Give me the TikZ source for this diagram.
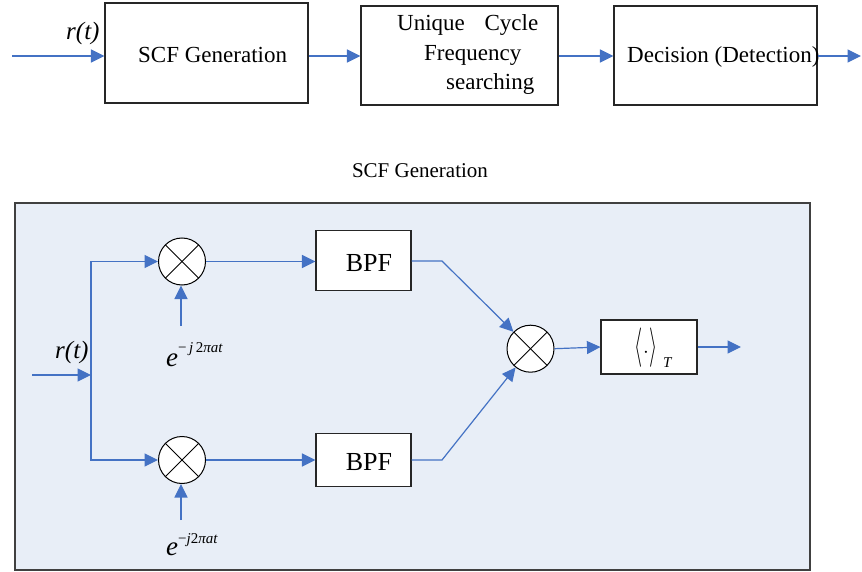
\documentclass[tikz,border=0pt]{standalone}
\usepackage{fontspec}
\usepackage{graphicx}
\setmainfont{Liberation Serif}
\usetikzlibrary{arrows.meta}
\definecolor{sigblue}{HTML}{4472C4}
\definecolor{panelfill}{HTML}{E8EEF7}
\definecolor{edgegray}{HTML}{404040}
\begin{document}
\begin{tikzpicture}[x=1pt,y=-1pt,
  blk/.style={draw=black!85, line width=1.1pt, fill=white, inner sep=0pt},
  sig/.style={draw=sigblue, line width=1.2pt, -{Triangle[length=13.5pt,width=13pt]}},
  mixer/.style={circle, draw=black, line width=1pt, fill=white, minimum size=47pt, inner sep=0pt,
    path picture={
      \draw[line width=0.9pt] (path picture bounding box.north west) -- (path picture bounding box.south east);
      \draw[line width=0.9pt] (path picture bounding box.north east) -- (path picture bounding box.south west);}},
  big/.style={font=\fontsize{23}{23}\selectfont, inner sep=0pt},
  sym/.style={font=\fontsize{25}{25}\selectfont\itshape, inner sep=0pt}]
\useasboundingbox (0,0) rectangle (862,572);

% ---- top chain ----
\node[blk, minimum width=203pt, minimum height=100pt] (b1) at (206.5,53) {};
\node[blk, minimum width=197pt, minimum height=99pt] (b2) at (459.5,55.5) {};
\node[blk, minimum width=203pt, minimum height=99pt] (b3) at (715.5,55.5) {};

\node[big, anchor=base west] (t1) at (138,63) {SCF Generation};
\node[big, anchor=base west] (t2a) at (397,31) {Unique\hspace*{14pt} Cycle};
\node[big, anchor=base west] (t2b) at (424,61) {Frequency};
\node[big, anchor=base west] (t2c) at (446,90) {searching};
\node[big, anchor=base west] (t3) at (627,63) {Decision (Detection)};

\coordinate (in1) at (12,56);
\coordinate (out1) at (861,56);
\node[sym, anchor=base west] (r1) at (66,40) {r(t)};
\draw[sig] (in1) -- (in1 -| b1.west);
\draw[sig] (b1.east |- in1) -- (b2.west |- in1);
\draw[sig] (b2.east |- in1) -- (b3.west |- in1);
\draw[sig] (b3.east |- in1) -- (out1);

% ---- SCF generation detail ----
\node[font=\fontsize{21}{21}\selectfont, inner sep=0pt] (title) at (420,171) {SCF Generation};
\node[draw=edgegray, line width=1.3pt, fill=panelfill, minimum width=795pt, minimum height=367pt, inner sep=0pt] (panel) at (412.5,386.5) {};

\node[mixer] (m1) at (182,261.5) {};
\node[mixer] (m2) at (182,460) {};
\node[mixer] (m3) at (530.5,348.7) {};

\node[blk, minimum width=95pt, minimum height=60pt] (f1) at (363.5,260.5) {};
\node[blk, minimum width=95pt, minimum height=53pt] (f2) at (363.5,460) {};
\node[font=\fontsize{26}{26}\selectfont, inner sep=0pt] (f1t) at (369,263) {BPF};
\node[font=\fontsize{26}{26}\selectfont, inner sep=0pt] (f2t) at (369,462) {BPF};

% time-average block: tall thin angle brackets with subscript T
\node[blk, minimum width=96pt, minimum height=54pt] (avg) at (649,347) {};
\node[font=\fontsize{20}{20}\selectfont, inner sep=0pt] (avgt) at (646,348)
  {\scalebox{1}[1.9]{$\langle$}\hspace{1pt}$\mathbf{\cdot}$\hspace{1pt}\scalebox{1}[1.9]{$\rangle$}};
\node[font=\fontsize{15}{15}\selectfont\itshape, inner sep=0pt, anchor=base west] (avgT) at (663,367) {T};

% input and split
\coordinate (in2) at (32,375);
\coordinate (jn) at (91,375);
\node[sym, anchor=base west] (r2) at (55,358) {r(t)};
\draw[sig] (in2) -- (jn);
\draw[sig] (jn) |- (m1.west);
\draw[sig] (jn) |- (m2.west);

% local oscillators
\coordinate (lo1) at (181,326);
\coordinate (lo2) at (181,520);
\draw[sig] (lo1) -- (lo1 |- m1.south);
\draw[sig] (lo2) -- (lo2 |- m2.south);
\node[anchor=base west, inner sep=0pt] (e1) at (166,366)
  {\fontsize{27}{27}\selectfont\itshape e\raisebox{14pt}{\fontsize{15}{15}\selectfont\upshape −\,\itshape j\,\upshape 2\itshape πat}};
\node[anchor=base west, inner sep=0pt] (e2) at (166,555)
  {\fontsize{27}{27}\selectfont\itshape e\raisebox{12pt}{\fontsize{15}{15}\selectfont\upshape −\itshape j\upshape 2\itshape πat}};

% mixers to filters
\draw[sig] (m1.east) -- (f1.west |- m1.east);
\draw[sig] (m2.east) -- (f2.west |- m2.east);

% filters to product
\coordinate (k1) at (442,261);
\coordinate (k2) at (442,460);
\draw[sig] (f1.east |- k1) -- (k1) -- (m3);
\draw[sig] (f2.east |- k2) -- (k2) -- (m3);

% time average and output
\coordinate (out2) at (741,347);
\draw[sig] (m3.east) -- (avg.west);
\draw[sig] (avg.east) -- (out2);
\end{tikzpicture}
\end{document}
